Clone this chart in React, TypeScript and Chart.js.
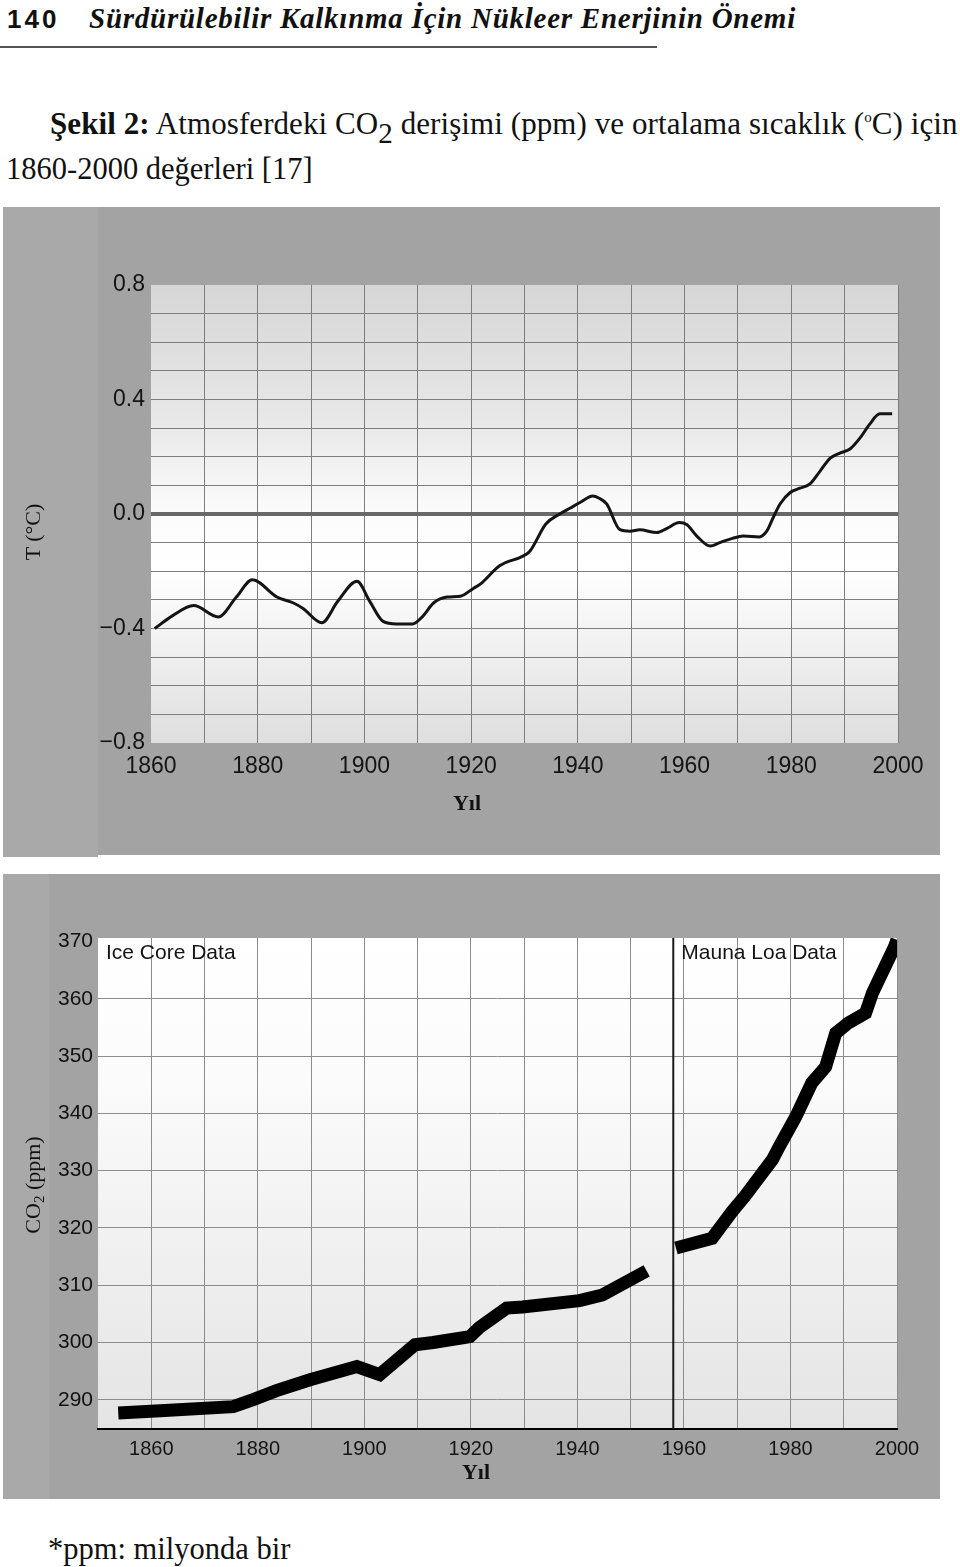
import React, { useEffect, useRef } from "react";
import { Chart, registerables } from "chart.js";

Chart.register(...registerables);

// ---------- Temperature anomaly (°C), 1860-2000 ----------
const tempYears = [
  1860.7, 1864, 1868, 1872.6, 1876, 1879, 1883.6, 1886.6, 1888.5, 1892, 1895,
  1898.6, 1901, 1903.5, 1906, 1909, 1910.8, 1913, 1915.5, 1918, 1920.4, 1921.7,
  1925.4, 1929.7, 1931, 1934, 1936.6, 1938.5, 1940.4, 1942.8, 1944, 1945.4,
  1947.9, 1949.8, 1951.6, 1954.8, 1956.7, 1959, 1960.4, 1962.3, 1964.8, 1966.6,
  1969, 1971, 1974, 1975.4, 1976.6, 1977.9, 1979.8, 1981.6, 1983.5, 1985.4,
  1987.3, 1989.1, 1991, 1992.9, 1994.7, 1996.6, 1998.9,
];
const tempValues = [
  -0.4, -0.356, -0.32, -0.36, -0.29, -0.23, -0.29, -0.31, -0.33, -0.38, -0.305,
  -0.235, -0.305, -0.375, -0.384, -0.384, -0.36, -0.31, -0.29, -0.287, -0.26,
  -0.245, -0.18, -0.147, -0.13, -0.035, 0.0, 0.02, 0.04, 0.063, 0.055, 0.035,
  -0.055, -0.06, -0.055, -0.065, -0.05, -0.03, -0.037, -0.077, -0.112, -0.1,
  -0.085, -0.077, -0.08, -0.06, -0.013, 0.035, 0.075, 0.09, 0.105, 0.15, 0.195,
  0.213, 0.227, 0.266, 0.314, 0.35, 0.35,
];
const tempTickValues = [-0.8, -0.4, 0, 0.4, 0.8];
const tempTickLabels = ["\u22120.8", "\u22120.4", "0.0", "0.4", "0.8"];

// ---------- CO2 (ppm) ----------
const iceYears = [
  1853.8, 1861.7, 1875.4, 1879, 1883.5, 1889.8, 1898.6, 1902.9, 1909.5, 1912.9,
  1919.8, 1921.6, 1926.7, 1929.7, 1940.4, 1944.7, 1953,
];
const iceValues = [
  287.7, 288.1, 288.8, 290, 291.6, 293.5, 295.8, 294.4, 299.6, 300.0, 301.0,
  302.6, 306.0, 306.2, 307.3, 308.3, 312.5,
];
const maunaYears = [
  1958.5, 1965.3, 1969, 1971.5, 1976.6, 1977.9, 1981, 1984, 1986.6, 1988.5,
  1990.9, 1994.1, 1995.4, 1999.5, 2000,
];
const maunaValues = [
  316.5, 318.2, 322.8, 325.6, 331.9, 334.2, 339.4, 345.3, 348.1, 354.0, 355.8,
  357.5, 361.0, 369.0, 370.3,
];
const co2TickValues = [290, 300, 310, 320, 330, 340, 350, 360, 370];
const dividerYear = 1958;
const co2Min = 284.9;
const co2Max = 370.6;

const tickFont = '"Liberation Sans", Arial, sans-serif';

const plotBg = {
  id: "plotBg",
  beforeDraw(chart: any, _args: any, opts: any) {
    const { ctx, chartArea: a } = chart;
    if (!a) return;
    const g = ctx.createLinearGradient(0, a.top, 0, a.bottom);
    (opts.stops || []).forEach((s: [number, string]) => g.addColorStop(s[0], s[1]));
    ctx.save();
    ctx.fillStyle = g;
    ctx.fillRect(a.left, a.top, a.right - a.left, a.bottom - a.top);
    ctx.restore();
  },
};

const dataNotes = {
  id: "dataNotes",
  afterDatasetsDraw(chart: any, _args: any, opts: any) {
    const { ctx, chartArea: a, scales } = chart;
    if (!opts.notes) return;
    ctx.save();
    ctx.fillStyle = "#141414";
    ctx.font = `21px ${tickFont}`;
    ctx.textBaseline = "middle";
    ctx.textAlign = "left";
    opts.notes.forEach((n: any) => {
      const x = n.year != null ? scales.x.getPixelForValue(n.year) + 8 : a.left + 8;
      ctx.fillText(n.text, x, a.top + 15);
    });
    ctx.restore();
  },
};

function near(a: number, b: number) {
  return Math.abs(a - b) < 1e-6;
}

export default function App() {
  const topRef = useRef<HTMLCanvasElement>(null);
  const botRef = useRef<HTMLCanvasElement>(null);

  useEffect(() => {
    const top = new Chart(topRef.current!, {
      type: "line",
      data: {
        datasets: [
          {
            data: tempYears.map((x, i) => ({ x, y: tempValues[i] })),
            borderColor: "#141414",
            borderWidth: 3,
            pointRadius: 0,
            cubicInterpolationMode: "monotone",
            fill: false,
          },
        ],
      },
      options: {
        animation: false,
        responsive: false,
        devicePixelRatio: 1,
        layout: { padding: { left: 0, top: 78, right: 42, bottom: 0 } },
        plugins: {
          legend: { display: false },
          tooltip: { enabled: false },
          plotBg: {
            stops: [
              [0, "#d6d6d6"],
              [0.3, "#e8e8e8"],
              [0.5, "#fcfcfc"],
              [0.62, "#ffffff"],
              [0.8, "#f0f0f0"],
              [1, "#dedede"],
            ],
          },
        } as any,
        scales: {
          x: {
            type: "linear",
            min: 1860,
            max: 2000,
            afterFit(s: any) {
              s.height = 112;
            },
            ticks: {
              stepSize: 10,
              autoSkip: false,
              maxRotation: 0,
              padding: 10,
              color: "#141414",
              font: { family: tickFont, size: 23 },
              callback: (v: any) => (Math.round(v) % 20 === 0 ? String(Math.round(v)) : ""),
            },
            grid: {
              drawTicks: false,
              color: (c: any) => (c.tick && near(c.tick.value, 1860) ? "rgba(0,0,0,0)" : "#7e7e7e"),
              lineWidth: 1,
            },
            border: { display: false },
          },
          y: {
            type: "linear",
            min: -0.8,
            max: 0.8,
            afterFit(s: any) {
              s.width = 148;
            },
            ticks: {
              stepSize: 0.1,
              autoSkip: false,
              padding: 6,
              color: "#141414",
              font: { family: tickFont, size: 23 },
              callback: (v: any) => {
                const i = tempTickValues.findIndex((t) => near(t, v));
                return i >= 0 ? tempTickLabels[i] : "";
              },
            },
            grid: {
              drawTicks: false,
              color: (c: any) => {
                const v = c.tick ? c.tick.value : 1;
                if (near(Math.abs(v), 0.8)) return "rgba(0,0,0,0)";
                return near(v, 0) ? "#686868" : "#7e7e7e";
              },
              lineWidth: (c: any) => (c.tick && near(c.tick.value, 0) ? 4 : 1),
            },
            border: { display: false },
          },
        },
      },
      plugins: [plotBg],
    } as any);

    const bot = new Chart(botRef.current!, {
      type: "line",
      data: {
        datasets: [
          {
            data: iceYears.map((x, i) => ({ x, y: iceValues[i] })),
            borderColor: "#000",
            borderWidth: 13,
            pointRadius: 0,
            tension: 0,
            fill: false,
            clip: 0,
          },
          {
            data: maunaYears.map((x, i) => ({ x, y: maunaValues[i] })),
            borderColor: "#000",
            borderWidth: 13,
            pointRadius: 0,
            tension: 0,
            fill: false,
            clip: 0,
          },
          {
            data: [
              { x: dividerYear, y: co2Min },
              { x: dividerYear, y: co2Max },
            ],
            borderColor: "#1a1a1a",
            borderWidth: 2,
            pointRadius: 0,
            fill: false,
          },
        ],
      },
      options: {
        animation: false,
        responsive: false,
        devicePixelRatio: 1,
        layout: { padding: { left: 0, top: 64, right: 43, bottom: 0 } },
        plugins: {
          legend: { display: false },
          tooltip: { enabled: false },
          plotBg: {
            stops: [
              [0, "#ffffff"],
              [0.3, "#fbfbfb"],
              [0.7, "#eeeeee"],
              [1, "#e4e4e4"],
            ],
          },
          dataNotes: {
            notes: [
              { text: "Ice Core Data", year: null },
              { text: "Mauna Loa Data", year: dividerYear },
            ],
          },
        } as any,
        scales: {
          x: {
            type: "linear",
            min: 1850,
            max: 2000,
            afterFit(s: any) {
              s.height = 70;
            },
            ticks: {
              stepSize: 10,
              autoSkip: false,
              maxRotation: 0,
              padding: 8,
              color: "#141414",
              font: { family: tickFont, size: 20 },
              callback: (v: any) => (Math.round(v) % 20 === 0 ? String(Math.round(v)) : ""),
            },
            grid: {
              drawTicks: false,
              color: (c: any) => (c.tick && near(c.tick.value, 1850) ? "rgba(0,0,0,0)" : "#8c8c8c"),
              lineWidth: 1,
            },
            border: { display: true, color: "#000", width: 2 },
          },
          y: {
            type: "linear",
            min: co2Min,
            max: co2Max,
            afterFit(s: any) {
              s.width = 95;
            },
            afterBuildTicks(s: any) {
              s.ticks = co2TickValues.map((v) => ({ value: v }));
            },
            ticks: {
              autoSkip: false,
              padding: 5,
              color: "#111",
              font: { family: tickFont, size: 21 },
              callback: (v: any) => String(v),
            },
            grid: {
              drawTicks: false,
              color: (c: any) => (c.tick && near(c.tick.value, 370) ? "rgba(0,0,0,0)" : "#8c8c8c"),
              lineWidth: 1,
            },
            border: { display: false },
          },
        },
      },
      plugins: [plotBg, dataNotes],
    } as any);

    return () => {
      top.destroy();
      bot.destroy();
    };
  }, []);

  const serif = '"Liberation Serif", "Times New Roman", serif';

  return (
    <div
      style={{
        position: "absolute",
        left: 0,
        top: 0,
        width: 960,
        height: 1567,
        background: "#fff",
        overflow: "hidden",
        fontFamily: serif,
        color: "#111",
      }}
    >
      {/* Running header */}
      <div
        style={{
          position: "absolute",
          left: 7,
          top: 6,
          fontFamily: tickFont,
          fontWeight: "bold",
          fontSize: 26,
          lineHeight: "26px",
          letterSpacing: 3,
          whiteSpace: "nowrap",
        }}
      >
        140
      </div>
      <div
        style={{
          position: "absolute",
          left: 89,
          top: 4,
          fontWeight: "bold",
          fontStyle: "italic",
          fontSize: 29,
          lineHeight: "29px",
          letterSpacing: 0.75,
          whiteSpace: "nowrap",
        }}
      >
        Sürdürülebilir Kalkınma İçin Nükleer Enerjinin Önemi
      </div>
      <div style={{ position: "absolute", left: 0, top: 46, width: 657, height: 2, background: "#555" }} />

      {/* Caption */}
      <div
        style={{
          position: "absolute",
          left: 50,
          top: 108,
          fontSize: 31,
          lineHeight: "31px",
          letterSpacing: 0.08,
          whiteSpace: "nowrap",
        }}
      >
        <b>Şekil 2:</b> Atmosferdeki CO
        <span style={{ fontSize: 29, position: "relative", top: 9 }}>2</span> derişimi (ppm) ve ortalama
        sıcaklık (<span style={{ fontSize: 15, position: "relative", top: -12 }}>o</span>C) için
      </div>
      <div
        style={{
          position: "absolute",
          left: 6,
          top: 154,
          fontSize: 30.5,
          lineHeight: "31px",
          whiteSpace: "nowrap",
        }}
      >
        1860-2000 değerleri [17]
      </div>

      {/* Top panel: temperature */}
      <div style={{ position: "absolute", left: 3, top: 207, width: 937, height: 648, background: "#a3a3a3" }} />
      <div style={{ position: "absolute", left: 3, top: 207, width: 95, height: 650, background: "#a9a9a9" }} />
      <canvas
        ref={topRef}
        width={937}
        height={648}
        style={{ position: "absolute", left: 3, top: 207, width: 937, height: 648 }}
      />
      <div
        style={{
          position: "absolute",
          left: -7,
          top: 520,
          width: 80,
          height: 24,
          lineHeight: "24px",
          fontSize: 22,
          textAlign: "center",
          transform: "rotate(-90deg)",
          whiteSpace: "nowrap",
        }}
      >
        T (°C)
      </div>
      <div
        style={{
          position: "absolute",
          left: 417,
          top: 791,
          width: 100,
          lineHeight: "24px",
          fontSize: 22,
          fontWeight: "bold",
          textAlign: "center",
        }}
      >
        Yıl
      </div>

      {/* Bottom panel: CO2 */}
      <div style={{ position: "absolute", left: 3, top: 874, width: 937, height: 625, background: "#a3a3a3" }} />
      <div style={{ position: "absolute", left: 3, top: 874, width: 46, height: 625, background: "#a9a9a9" }} />
      <canvas
        ref={botRef}
        width={937}
        height={625}
        style={{ position: "absolute", left: 3, top: 874, width: 937, height: 625 }}
      />
      <div
        style={{
          position: "absolute",
          left: -32,
          top: 1173,
          width: 130,
          height: 24,
          lineHeight: "24px",
          fontSize: 22,
          textAlign: "center",
          transform: "rotate(-90deg)",
          whiteSpace: "nowrap",
        }}
      >
        CO<span style={{ fontSize: 15, position: "relative", top: 4 }}>2</span> (ppm)
      </div>
      <div
        style={{
          position: "absolute",
          left: 426,
          top: 1460,
          width: 100,
          lineHeight: "24px",
          fontSize: 22,
          fontWeight: "bold",
          textAlign: "center",
        }}
      >
        Yıl
      </div>

      {/* Footnote */}
      <div
        style={{
          position: "absolute",
          left: 48,
          top: 1534,
          fontSize: 30.5,
          lineHeight: "30px",
          whiteSpace: "nowrap",
        }}
      >
        *ppm: milyonda bir
      </div>
    </div>
  );
}
